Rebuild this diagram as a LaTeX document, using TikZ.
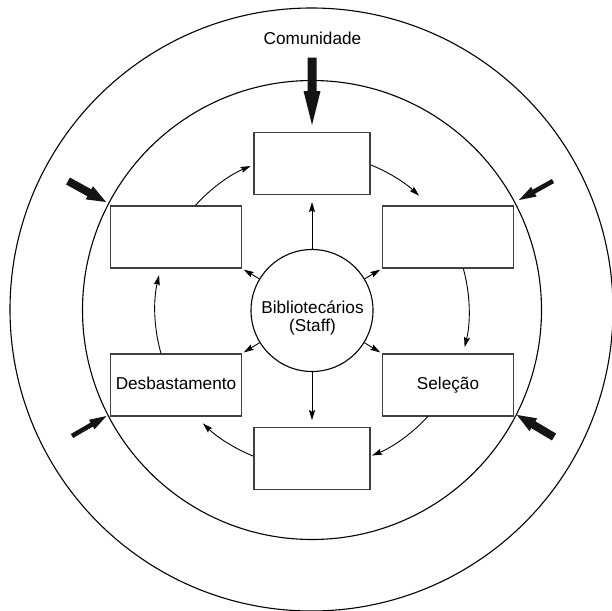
\documentclass[tikz,border=0pt]{standalone}
\usepackage{fontspec}
\setmainfont{Liberation Sans}
\usetikzlibrary{arrows.meta,calc}
\newcommand\lbl{\fontsize{17.2}{18.5}\selectfont}
% block arrow: #1 tail, #2 tip, #3 shaft half width, #4 head half width, #5 head length
\newcommand\blockarr[5]{%
  \coordinate (baP) at ($(#2)!#5!(#1)$);
  \fill[black!92] ($(#1)!#3!90:(#2)$) -- ($(baP)!#3!90:(#2)$) -- ($(baP)!#4!90:(#2)$) -- (#2)
    -- ($(baP)!#4!-90:(#2)$) -- ($(baP)!#3!-90:(#2)$) -- ($(#1)!#3!-90:(#2)$) -- cycle;
}
\tikzset{
  ring/.style={draw=black, line width=1.1pt, circle, inner sep=0pt},
  box/.style={draw=black!75, line width=1.1pt, minimum width=131pt, minimum height=62pt,
    inner sep=0pt, text height=12pt, text depth=3.4pt, font=\lbl},
  tarrow/.style={draw=black, line width=0.9pt, -{Stealth[length=10pt,width=6pt,inset=1.5pt]}},
}
\begin{document}
\begin{tikzpicture}[x=1pt,y=-1pt]
\useasboundingbox (0,0) rectangle (612,610);
% rings
\node[ring, minimum size=603pt] (outer) at (311.5,309.5) {};
\node[ring, minimum size=459pt] (inner) at (312,310) {};
\node[ring, minimum size=122pt,
  label={[font=\lbl, align=center, yshift=-7.5pt, xshift=0.5pt]center:Bibliotecários\\(Staff)}] (staff) at (312,310.5) {};
% boxes
\node[box, minimum width=116pt] (topbox) at (312,163.5) {};
\node[box] (ulbox) at (176,237) {};
\node[box] (urbox) at (448,237) {};
\node[box] (desb) at (176,385) {Desbastamento};
\node[box] (sel) at (448,385) {Seleção};
\node[box, minimum width=116pt] (botbox) at (312,458.7) {};
% title
\node[font=\lbl, anchor=base, inner sep=0pt] (com) at (312.5,45) {Comunidade};
% radial arrows from the staff circle
\draw[tarrow, shorten >=7pt] (staff) -- (topbox);
\draw[tarrow, shorten >=7pt] (staff) -- (botbox);
\draw[tarrow, shorten >=2pt] (staff) -- (ulbox.south east);
\draw[tarrow, shorten >=2pt] (staff) -- (urbox.south west);
\draw[tarrow, shorten >=2pt] (staff) -- (desb.north east);
\draw[tarrow, shorten >=2pt] (staff) -- (sel.north west);
% cycle arcs
\coordinate (c) at (312,310.5);
\coordinate (s1) at ($(c)+(138:157pt)$);
\coordinate (s2) at ($(c)+(68:157pt)$);
\coordinate (s3) at ($(c)+(15.5:157pt)$);
\coordinate (s4) at ($(c)+(-42.3:157pt)$);
\coordinate (s5) at ($(c)+(248:157pt)$);
\coordinate (s6) at ($(c)+(196:157pt)$);
\draw[tarrow] (s1) arc[start angle=138, end angle=113, radius=157pt];
\draw[tarrow] (s2) arc[start angle=68, end angle=47, radius=157pt];
\draw[tarrow] (s3) arc[start angle=15.5, end angle=-13.5, radius=157pt];
\draw[tarrow] (s4) arc[start angle=-42.3, end angle=-67.5, radius=157pt];
\draw[tarrow] (s5) arc[start angle=248, end angle=226, radius=157pt];
\draw[tarrow] (s6) arc[start angle=196, end angle=167, radius=157pt];
% community arrows
\coordinate (tT) at (312,57.5);  \coordinate (tH) at (312,125);
\coordinate (ulT) at (68,181);   \coordinate (ulH) at (106,202);
\coordinate (urT) at (553,181);  \coordinate (urH) at (519,200);
\coordinate (llT) at (72,436);   \coordinate (llH) at (106.5,416);
\coordinate (lrT) at (554,437);  \coordinate (lrH) at (517,415);
\blockarr{tT}{tH}{4.5pt}{8.5pt}{34pt}
\blockarr{ulT}{ulH}{4pt}{7.5pt}{19pt}
\blockarr{lrT}{lrH}{4pt}{7.5pt}{19pt}
\blockarr{urT}{urH}{2.3pt}{5.5pt}{17pt}
\blockarr{llT}{llH}{2.3pt}{5.5pt}{17pt}
\end{tikzpicture}
\end{document}
